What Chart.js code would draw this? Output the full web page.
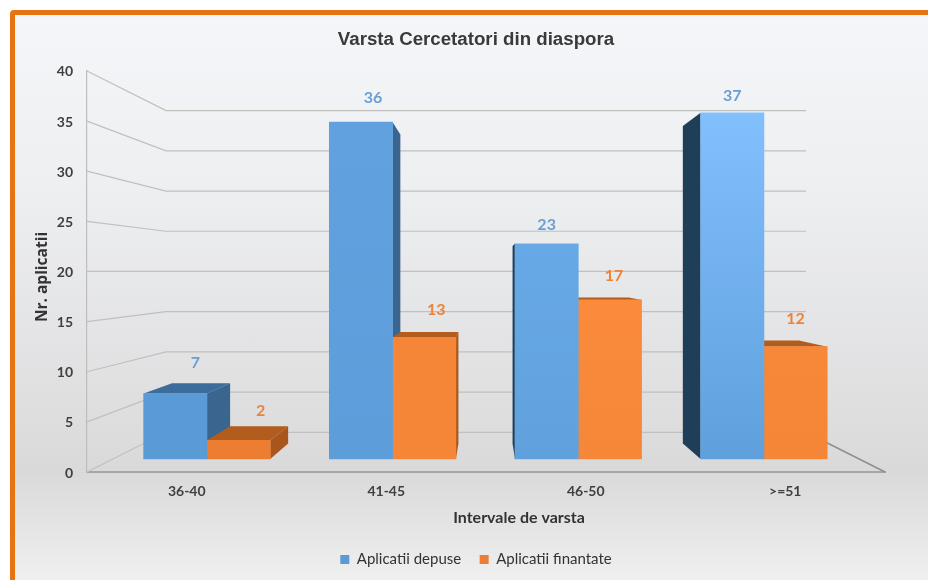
<!DOCTYPE html>
<html>
<head>
<meta charset="utf-8">
<title>Varsta Cercetatori din diaspora</title>
<script src="https://cdn.jsdelivr.net/npm/chart.js@4"></script>
<style>
    html, body { margin: 0; padding: 0; background: #fff; overflow: hidden; }
    #card {
        position: absolute; left: 10px; top: 10px; width: 930px; height: 568px;
        border: 5px solid #e8730f; border-radius: 4px; box-sizing: content-box;
        background: linear-gradient(#f4f6f9 0%, #eeeff1 30%, #dcdcdd 75%, #d9d9d9 80%, #f0f0f0 100%);
    }
    #chart { position: absolute; left: 0; top: 0; }
</style>
</head>
<body>
<div id="card"></div>
<canvas id="chart" width="928" height="580"></canvas>
<script>
// chart data
const categories = ['36-40', '41-45', '46-50', '>=51'];
const depuse = [7, 36, 23, 37];
const finantate = [2, 13, 17, 12];
const seriesNames = ['Aplicatii depuse', 'Aplicatii finantate'];

const blueTops = ['#5b9bd5', '#61a1df', '#67a9e6', '#81bffd'];
const blueBottoms = ['#5b9bd5', '#5d9dda', '#60a1dd', '#5fa0dc'];
const orangeTops = ['#ed7d31', '#f58638', '#fb8b3b', '#f78839'];
const orangeBottoms = ['#ed7d31', '#f58638', '#f68739', '#f58638'];

// nudges of the value labels, they do not sit over the bars in the original
const labelShiftX = [[20, 12, 0, 0], [22, 12, 4, 0]];
const labelShiftY = [[-23, -16, -11, -9], [-21, -20, -16, -20]];

const FONT = 'Lato, sans-serif';
const WALL_DEPTH = 0.802;
const BAR_DEPTH = 0.917;

function barFill(tops, bottoms) {
    return (ctx) => {
        if (ctx.type !== 'data') return bottoms[0];
        const scale = ctx.chart.scales.y1;
        const v = ctx.raw ? ctx.raw.y : 0;
        const y0 = scale.getPixelForValue(v);
        const y1 = scale.getPixelForValue(0);
        if (!Number.isFinite(y0) || !Number.isFinite(y1)) return bottoms[ctx.dataIndex];
        const g = ctx.chart.ctx.createLinearGradient(0, y0, 0, y1);
        g.addColorStop(0, tops[ctx.dataIndex]);
        g.addColorStop(1, bottoms[ctx.dataIndex]);
        return g;
    };
}

function vanishing(chart) {
    const area = chart.chartArea;
    return { x: (area.left + area.right) / 2, y: chart.scales.y.getPixelForValue(20) };
}

function quad(ctx, pts, color) {
    ctx.fillStyle = color;
    ctx.beginPath();
    pts.forEach((p, i) => i ? ctx.lineTo(p[0], p[1]) : ctx.moveTo(p[0], p[1]));
    ctx.closePath();
    ctx.fill();
}

// the fake 3D room and the side faces of the bars
const depthPlugin = {
    id: 'depth',
    beforeDatasetsDraw(chart) {
        const { ctx, chartArea: area, scales } = chart;
        const vp = vanishing(chart);
        const wallX = vp.x + WALL_DEPTH * (area.left - vp.x);
        const wallRight = vp.x + WALL_DEPTH * (area.right - vp.x);

        ctx.save();
        ctx.strokeStyle = '#c0c0c0';
        ctx.lineWidth = 1.2;
        scales.y.ticks.forEach(tick => {
            const y = scales.y.getPixelForValue(tick.value);
            const backY = vp.y + WALL_DEPTH * (y - vp.y);
            ctx.beginPath();
            ctx.moveTo(area.left, y);
            ctx.lineTo(wallX, backY);
            ctx.lineTo(wallRight, backY);
            ctx.stroke();
        });
        ctx.strokeStyle = '#8f8f8f';
        ctx.lineWidth = 1.5;
        ctx.beginPath();
        ctx.moveTo(area.right, area.bottom);
        ctx.lineTo(wallRight, vp.y + WALL_DEPTH * (area.bottom - vp.y));
        ctx.stroke();

        const project = (x, y) => [vp.x + BAR_DEPTH * (x - vp.x), vp.y + BAR_DEPTH * (y - vp.y)];
        const sideColors = [
            { top: '#3b6c9b', right: '#39658e', left: '#1f3f58' },
            { top: '#b25c1d', right: '#a8561b', left: '#a8561b' }
        ];
        chart.data.datasets.forEach((ds, i) => {
            const colors = sideColors[i];
            chart.getDatasetMeta(i).data.forEach(bar => {
                const x0 = bar.x - bar.width / 2;
                const x1 = bar.x + bar.width / 2;
                const top = bar.y;
                const base = bar.base;
                if (x0 > vp.x) {
                    quad(ctx, [[x0, top], [x0, base], project(x0, base), project(x0, top)], colors.left);
                }
                if (x1 < vp.x) {
                    quad(ctx, [[x1, top], [x1, base], project(x1, base), project(x1, top)], colors.right);
                }
                if (top > vp.y) {
                    quad(ctx, [[x0, top], [x1, top], project(x1, top), project(x0, top)], colors.top);
                }
            });
        });
        ctx.restore();
    },
    afterDatasetsDraw(chart) {
        const { ctx } = chart;
        ctx.save();
        ctx.textAlign = 'center';
        ctx.textBaseline = 'middle';
        ctx.font = 'bold 16px ' + FONT;
        chart.data.datasets.forEach((ds, i) => {
            ctx.fillStyle = i === 0 ? '#6a9fd3' : '#ed8239';
            chart.getDatasetMeta(i).data.forEach((bar, j) => {
                ctx.fillText(ds.data[j].y, bar.x + labelShiftX[i][j], bar.y + labelShiftY[i][j] - 8);
            });
        });
        // axis titles, neither sits centred on its axis in the original
        ctx.fillStyle = '#333';
        ctx.font = 'bold 16px ' + FONT;
        ctx.fillText('Intervale de varsta', 519, 518);
        ctx.font = 'bold 15.5px "Open Sans", sans-serif';
        ctx.translate(43, 277);
        ctx.rotate(-Math.PI / 2);
        ctx.fillText('Nr. aplicatii', 0, 0);
        ctx.restore();
    }
};

new Chart(document.getElementById('chart'), {
    type: 'bar',
    data: {
        labels: categories,
        datasets: [
            {
                label: seriesNames[0],
                data: depuse.map((v, i) => ({ x: i, y: v })),
                backgroundColor: barFill(blueTops, blueBottoms),
                xAxisID: 'xb',
                yAxisID: 'y1'
            },
            {
                label: seriesNames[1],
                data: finantate.map((v, i) => ({ x: i, y: v })),
                backgroundColor: barFill(orangeTops, orangeBottoms),
                xAxisID: 'xb',
                yAxisID: 'y1'
            }
        ]
    },
    options: {
        responsive: false,
        animation: false,
        barThickness: 63.3,
        layout: { padding: { left: 24, right: 0, top: 0, bottom: 3 } },
        plugins: {
            tooltip: { enabled: false },
            title: {
                display: true,
                text: 'Varsta Cercetatori din diaspora',
                color: '#3a3a3a',
                font: { family: 'Liberation Sans, Arial, sans-serif', size: 18.7, weight: 'bold' },
                padding: { top: 29, bottom: 19.5 }
            },
            legend: {
                position: 'bottom',
                labels: {
                    boxWidth: 9,
                    boxHeight: 9,
                    padding: 18.5,
                    color: '#333',
                    font: { family: FONT, size: 15 }
                }
            }
        },
        scales: {
            x: {
                type: 'category',
                offset: true,
                grid: { display: false, drawTicks: false },
                border: { display: true, color: '#a6a6a6', width: 2 },
                ticks: { color: '#404040', padding: 11, maxRotation: 0, autoSkip: false, font: { family: FONT, size: 14, weight: 'bold' } },
                afterFit: (scale) => { scale.height = 61.5; }
            },
            y: {
                type: 'linear',
                min: 0,
                max: 40,
                grid: { display: false, drawTicks: false },
                border: { display: true, color: '#bdbdbd', width: 1.2 },
                ticks: { stepSize: 5, color: '#404040', padding: 14, labelOffset: 1, font: { family: FONT, size: 14, weight: 'bold' } },
                afterFit: (scale) => { scale.width = 63; }
            },
            // bars stand on a plane in front of the room, so they get their own scales
            xb: { type: 'linear', display: false, offset: false, min: -0.646, max: 3.652, grid: { offset: false } },
            y1: {
                type: 'linear',
                position: 'right',
                min: -1.39,
                max: 41.47,
                grid: { display: false, drawTicks: false },
                border: { display: false },
                ticks: { display: false },
                afterFit: (scale) => { scale.width = 43; }
            }
        }
    },
    plugins: [depthPlugin]
});
</script>
</body>
</html>
